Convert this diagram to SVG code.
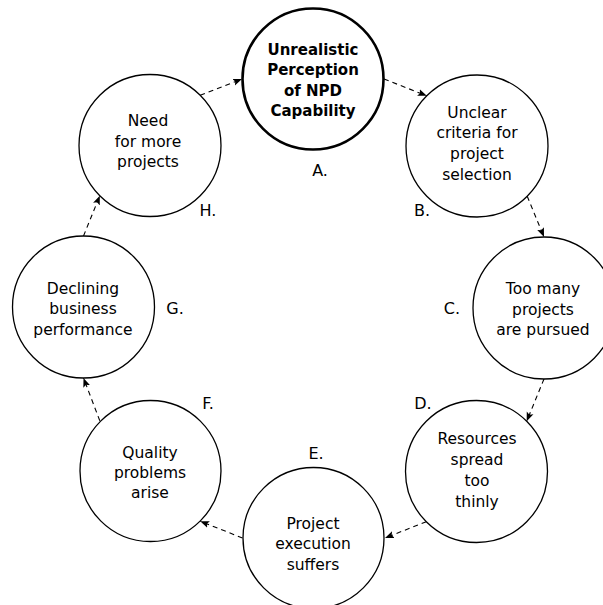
<svg xmlns="http://www.w3.org/2000/svg" width="603" height="605" viewBox="0 0 603 605">
<style>
.n{fill:#fff;stroke:#000;stroke-width:1.3}
.b{stroke-width:2.6}
text{font-family:"DejaVu Sans",sans-serif;font-size:15.5px;fill:#000;text-anchor:middle}
.bt{font-weight:bold;font-size:15px}
.lb{font-size:16px}
.c{fill:none;stroke:#000;stroke-width:1.1;stroke-dasharray:5,4;marker-end:url(#ah)}
</style>
<defs>
<marker id="ah" viewBox="0 0 10 10" refX="10" refY="5" markerWidth="9" markerHeight="9" markerUnits="userSpaceOnUse" orient="auto">
<path d="M0,1 L10,5 L0,9 L2,5 Z" fill="#000"/>
</marker>
</defs>
<rect width="603" height="605" fill="#fff"/>
<g id="connectors">
<line class="c" x1="200.2" y1="95.3" x2="242" y2="79"/>
<line class="c" x1="384" y1="79" x2="426.8" y2="95.8"/>
<line class="c" x1="527.2" y1="196.2" x2="544" y2="237"/>
<line class="c" x1="544" y1="379" x2="526.7" y2="421.3"/>
<line class="c" x1="426.3" y1="521.7" x2="385" y2="538"/>
<line class="c" x1="242.5" y1="538" x2="200.2" y2="521.2"/>
<line class="c" x1="99.8" y1="420.8" x2="83.5" y2="378"/>
<line class="c" x1="83.5" y1="236" x2="99.8" y2="195.7"/>
</g>
<g id="A">
<circle class="n b" cx="313" cy="79" r="70.5"/>
<text class="bt" x="313" y="55">Unrealistic</text>
<text class="bt" x="313" y="75">Perception</text>
<text class="bt" x="313" y="96">of NPD</text>
<text class="bt" x="313" y="116">Capability</text>
<text class="lb" x="320" y="176">A.</text>
</g>
<g id="B">
<circle class="n" cx="477" cy="146" r="71"/>
<text x="477" y="118">Unclear</text>
<text x="477" y="138">criteria for</text>
<text x="477" y="159">project</text>
<text x="477" y="180">selection</text>
<text class="lb" x="422" y="216">B.</text>
</g>
<g id="C">
<circle class="n" cx="544" cy="308" r="71"/>
<text x="543" y="294">Too many</text>
<text x="543" y="315">projects</text>
<text x="543" y="335">are pursued</text>
<text class="lb" x="452" y="314">C.</text>
</g>
<g id="D">
<circle class="n" cx="476.5" cy="471.5" r="71"/>
<text x="477" y="444">Resources</text>
<text x="477" y="465">spread</text>
<text x="477" y="486">too</text>
<text x="477" y="507">thinly</text>
<text class="lb" x="423" y="409">D.</text>
</g>
<g id="E">
<circle class="n" cx="313.5" cy="538" r="70.5"/>
<text x="313" y="529">Project</text>
<text x="313" y="549">execution</text>
<text x="313" y="570">suffers</text>
<text class="lb" x="316" y="459">E.</text>
</g>
<g id="F">
<circle class="n" cx="150.5" cy="471" r="70.5"/>
<text x="150" y="458">Quality</text>
<text x="150" y="478">problems</text>
<text x="150" y="498">arise</text>
<text class="lb" x="208" y="409">F.</text>
</g>
<g id="G">
<circle class="n" cx="83.5" cy="307" r="71"/>
<text x="83" y="294">Declining</text>
<text x="83" y="314">business</text>
<text x="83" y="335">performance</text>
<text class="lb" x="175" y="314">G.</text>
</g>
<g id="H">
<circle class="n" cx="150" cy="145.5" r="71"/>
<text x="148" y="126">Need</text>
<text x="148" y="147">for more</text>
<text x="148" y="167">projects</text>
<text class="lb" x="208" y="216">H.</text>
</g>
</svg>
